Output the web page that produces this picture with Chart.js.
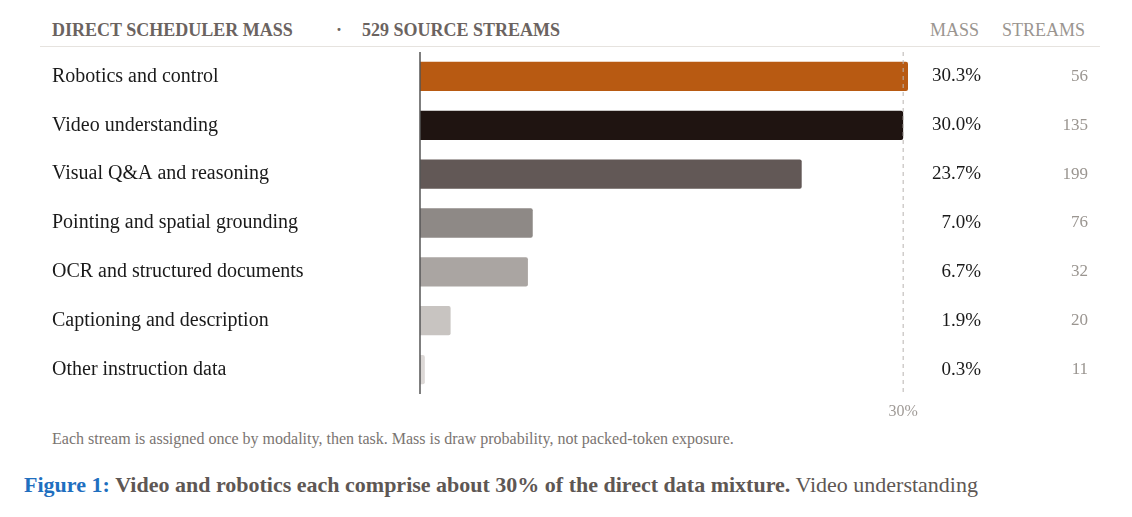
<!DOCTYPE html>
<html>
<head>
<meta charset="utf-8">
<script src="https://cdn.jsdelivr.net/npm/chart.js@4"></script>
<style>
  body { margin: 0; width: 1132px; height: 517px; background: #fff; font-family: "Liberation Serif", serif; position: relative; overflow: hidden; }
  #wrap { position: absolute; left: 0; top: 0; width: 1132px; height: 430px; }
  .hdr { position: absolute; top: 20px; font-size: 18px; }
  .rule { position: absolute; left: 40px; width: 1060px; top: 46px; border-top: 1px solid #e6e3df; }
  .note { position: absolute; left: 52px; top: 430px; font-size: 16px; color: #7a7471; }
  .fig { position: absolute; left: 24px; top: 472px; font-size: 22px; color: #5e5754; white-space: nowrap; }
</style>
</head>
<body>
<div class="hdr" style="left:52px;color:#6b6360;font-weight:bold;">DIRECT SCHEDULER MASS</div>
<div class="hdr" style="left:336px;color:#6b6360;font-weight:bold;">·</div>
<div class="hdr" style="left:362px;color:#6b6360;font-weight:bold;">529 SOURCE STREAMS</div>
<div class="hdr" style="left:930px;color:#9a9590;">MASS</div>
<div class="hdr" style="left:1002px;color:#9a9590;">STREAMS</div>
<div class="rule"></div>
<div id="wrap"><canvas id="chart"></canvas></div>
<div class="note">Each stream is assigned once by modality, then task. Mass is draw probability, not packed-token exposure.</div>
<div class="fig"><b style="color:#1f6fbf">Figure 1:</b> <b>Video and robotics each comprise about 30% of the direct data mixture.</b> Video understanding</div>
<script>
// ================== Δεδομένα ==================
const categories = ["Robotics and control", "Video understanding", "Visual Q&A and reasoning",
  "Pointing and spatial grounding", "OCR and structured documents", "Captioning and description", "Other instruction data"];
const massValues = [30.3, 30.0, 23.7, 7.0, 6.7, 1.9, 0.3];
const streamCounts = [56, 135, 199, 76, 32, 20, 11];
const barColors = ["#b85a12", "#1f1411", "#625856", "#8e8986", "#aaa5a2", "#c8c4c1", "#dcd8d6"];
const refTick = 30;

// ================== Plugin για στήλες ==================
const columnsPlugin = {
  id: "columns",
  afterDraw(chart) {
    const ctx = chart.ctx;
    const x = chart.scales.x, y = chart.scales.y;
    const area = chart.chartArea;
    ctx.save();
    // διακεκομμένη γραμμή στο 30%
    const xr = x.getPixelForValue(refTick);
    ctx.strokeStyle = "#b8b4b0";
    ctx.setLineDash([4, 4]);
    ctx.lineWidth = 1;
    ctx.beginPath();
    ctx.moveTo(xr, area.top); ctx.lineTo(xr, area.bottom);
    ctx.stroke();
    ctx.setLineDash([]);
    // άξονας
    ctx.strokeStyle = "#555";
    ctx.lineWidth = 1.5;
    ctx.beginPath();
    ctx.moveTo(area.left, area.top); ctx.lineTo(area.left, area.bottom);
    ctx.stroke();
    ctx.font = "16px 'Liberation Serif'";
    ctx.fillStyle = "#a09b97";
    ctx.textAlign = "center";
    ctx.textBaseline = "middle";
    ctx.fillText(refTick + "%", xr, area.bottom + 18);
    ctx.font = "19px 'Liberation Serif'";
    ctx.textAlign = "right";
    categories.forEach((c, i) => {
      const py = y.getPixelForValue(i);
      ctx.fillStyle = "#1a1a1a";
      ctx.fillText(massValues[i].toFixed(1) + "%", 981, py);
      ctx.fillStyle = "#9a9590";
      ctx.font = "17px 'Liberation Serif'";
      ctx.fillText(String(streamCounts[i]), 1088, py);
      ctx.font = "19px 'Liberation Serif'";
    });
    ctx.restore();
  }
};

new Chart(document.getElementById("chart"), {
  type: "bar",
  data: {
    labels: categories,
    datasets: [{
      data: massValues,
      backgroundColor: barColors,
      borderRadius: 2,
      borderSkipped: "start",
      barPercentage: 0.6,
      categoryPercentage: 1
    }]
  },
  options: {
    indexAxis: "y",
    responsive: true,
    maintainAspectRatio: false,
    animation: false,
    layout: { padding: { left: 52, right: 224, top: 52, bottom: 36 } },
    plugins: { legend: { display: false }, tooltip: { enabled: false } },
    scales: {
      x: { min: 0, max: 30.3, display: false },
      y: {
        grid: { display: false },
        border: { display: false },
        afterFit(scale) { scale.width = 368; },
        ticks: { crossAlign: "far", padding: 0, color: "#1a1a1a", font: { family: "Liberation Serif", size: 20 } }
      }
    }
  },
  plugins: [columnsPlugin]
});
</script>
</body>
</html>
